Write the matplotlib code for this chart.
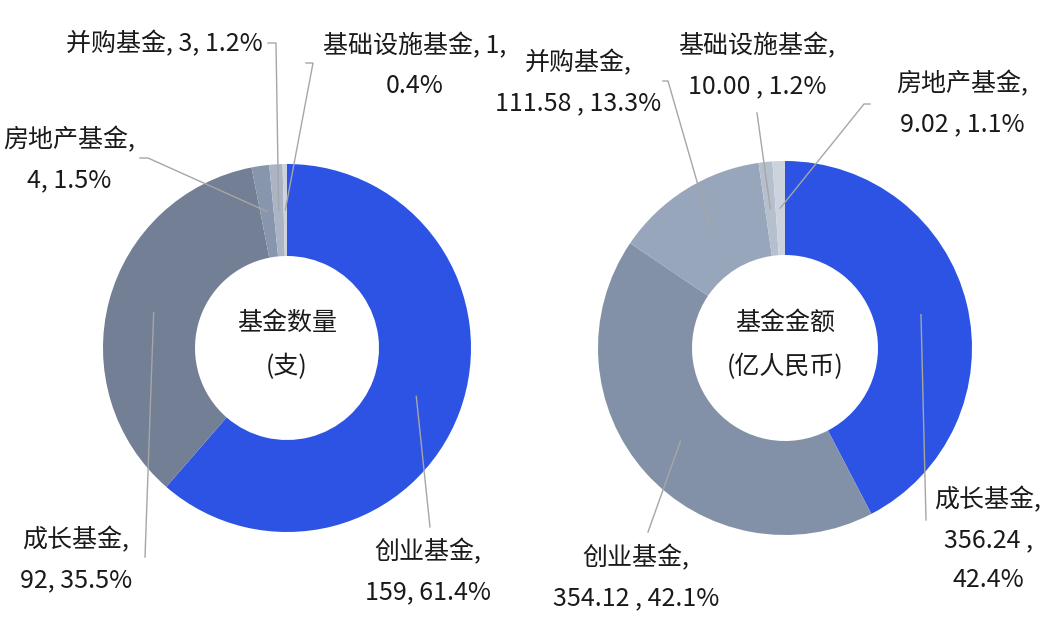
import numpy as np
import matplotlib.pyplot as plt

plt.rcParams['font.family'] = ['Noto Sans CJK SC', 'DejaVu Sans']

W, H = 1053, 632

# left donut: fund count
count_names = ["创业基金", "成长基金", "房地产基金", "并购基金", "基础设施基金"]
count_values = [159, 92, 4, 3, 1]
count_pcts = ["61.4%", "35.5%", "1.5%", "1.2%", "0.4%"]
count_colors = ["#2c53e3", "#737f95", "#8896ad", "#aab4c4", "#cdd3dd"]

# right donut: fund amount (亿人民币)
amount_names = ["成长基金", "创业基金", "并购基金", "基础设施基金", "房地产基金"]
amount_values = [356.24, 354.12, 111.58, 10.00, 9.02]
amount_pcts = ["42.4%", "42.1%", "13.3%", "1.2%", "1.1%"]
amount_colors = ["#2c53e3", "#8391a8", "#98a6bb", "#b5bfcd", "#cdd3dd"]

# label layout: text centre (px), text template, leader path start points (px)
count_layout = [
    ((428, 572), "{n},\n{v}, {p}", [(430, 527)]),
    ((76, 560), "{n},\n{v}, {p}", [(145, 557)]),
    ((69, 160), "{n},\n{v}, {p}", [(140, 158), (148, 158)]),
    ((164, 44), "{n}, {v}, {p}", [(268, 43), (276, 43)]),
    ((415, 66), "{n}, {v},\n{p}", [(306, 63), (313, 63)]),
]
amount_layout = [
    ((988, 540), "{n},\n{v:.2f} ,\n{p}", [(926, 520)]),
    ((636, 578), "{n},\n{v:.2f} , {p}", [(648, 532)]),
    ((578, 83), "{n},\n{v:.2f} , {p}", [(663, 81), (668, 81)]),
    ((757, 66), "{n},\n{v:.2f} , {p}", [(757, 113)]),
    ((962, 104), "{n},\n{v:.2f} , {p}", [(870, 104), (864, 104)]),
]

fig = plt.figure(figsize=(W / 100, H / 100), dpi=100)
ax = fig.add_axes([0, 0, 1, 1])


def donut(center, R, r, names, values, pcts, colors, layout, title):
    cx, cy = center[0], H - center[1]
    wedges, _ = ax.pie(values, colors=colors, startangle=90, counterclock=False,
                       center=(cx, cy), radius=R, frame=True,
                       wedgeprops=dict(width=R - r, linewidth=0))
    rm = (R + r) / 2
    for w, n, v, p, (tpos, fmt, pts) in zip(wedges, names, values, pcts, layout):
        mid = np.deg2rad((w.theta1 + w.theta2) / 2)
        end = (cx + rm * np.cos(mid), cy + rm * np.sin(mid))
        xs = [q[0] for q in pts] + [end[0]]
        ys = [H - q[1] for q in pts] + [end[1]]
        ax.plot(xs, ys, color="#a6a6a6", lw=1)
        ax.text(tpos[0], H - tpos[1], fmt.format(n=n, v=v, p=p), ha='center',
                va='center', fontsize=18, linespacing=1.7, color="#1a1a1a")
    ax.text(cx, cy + 3, title, ha='center', va='center', fontsize=18,
            linespacing=1.85, color="#1a1a1a")


donut((287, 348), 184, 92, count_names, count_values, count_pcts,
      count_colors, count_layout, "基金数量\n(支)")
donut((785, 348), 187, 93, amount_names, amount_values, amount_pcts,
      amount_colors, amount_layout, "基金金额\n(亿人民币)")

ax.set_xlim(0, W)
ax.set_ylim(0, H)
ax.set_aspect('equal')
ax.axis('off')

plt.savefig("out.png", dpi=100)
